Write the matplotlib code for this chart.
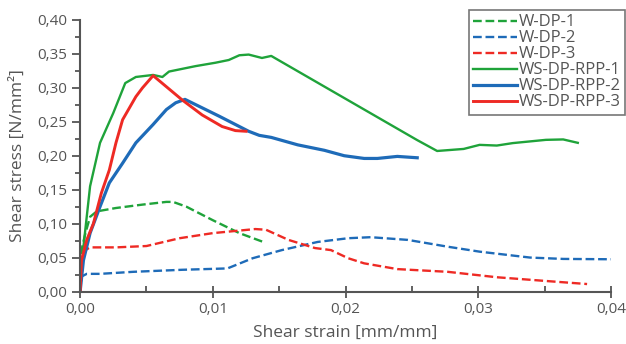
import numpy as np
import matplotlib.pyplot as plt

plt.rcParams['font.family'] = ['Open Sans', 'DejaVu Sans']

# W-DP-1 (green dashed)
w1_x = [0, 0.0001, 0.0004, 0.00075, 0.00125, 0.0027, 0.0047, 0.0065, 0.0070, 0.008, 0.010, 0.012, 0.0138]
w1_y = [0, 0.061, 0.086, 0.110, 0.118, 0.123, 0.128, 0.132, 0.132, 0.125, 0.105, 0.086, 0.073]

# W-DP-2 (blue dashed)
w2_x = [0, 0.0001, 0.0005, 0.0015, 0.004, 0.0077, 0.0111, 0.013, 0.0152, 0.0179, 0.0202, 0.0219,
        0.0247, 0.0277, 0.0301, 0.0339, 0.0364, 0.040]
w2_y = [0, 0.022, 0.026, 0.026, 0.029, 0.032, 0.034, 0.049, 0.061, 0.073, 0.0785, 0.080,
        0.076, 0.066, 0.0587, 0.050, 0.048, 0.0475]

# W-DP-3 (red dashed)
w3_x = [0, 0.00005, 0.0004, 0.00075, 0.0027, 0.005, 0.0075, 0.010, 0.0132, 0.014, 0.0157, 0.0177,
        0.0189, 0.0202, 0.0214, 0.0239, 0.0277, 0.0314, 0.0351, 0.0382]
w3_y = [0, 0.0415, 0.061, 0.065, 0.065, 0.067, 0.0785, 0.086, 0.092, 0.091, 0.076, 0.064,
        0.061, 0.049, 0.0415, 0.033, 0.029, 0.021, 0.0155, 0.011]

# WS-DP-RPP-1 (green solid)
ws1_x = [0, 0.00025, 0.00075, 0.0015, 0.0025, 0.0034, 0.0042, 0.0055, 0.0062, 0.0067, 0.0087,
         0.0102, 0.0112, 0.012, 0.0127, 0.0137, 0.0144, 0.0254, 0.0269, 0.0289, 0.0301, 0.0314,
         0.0326, 0.0351, 0.0364, 0.0375]
ws1_y = [0, 0.066, 0.155, 0.219, 0.263, 0.307, 0.316, 0.319, 0.316, 0.324, 0.332,
         0.337, 0.341, 0.348, 0.349, 0.344, 0.347, 0.223, 0.207, 0.210, 0.216, 0.215,
         0.2186, 0.2234, 0.224, 0.219]

# WS-DP-RPP-2 (blue solid)
ws2_x = [0, 0.00025, 0.00075, 0.0015, 0.0022, 0.0032, 0.0042, 0.0055, 0.0065, 0.0072, 0.0079,
         0.0105, 0.0127, 0.0135, 0.0144, 0.0164, 0.0184, 0.0199, 0.0214, 0.0224, 0.0239, 0.0254]
ws2_y = [0, 0.046, 0.086, 0.125, 0.160, 0.189, 0.219, 0.246, 0.268, 0.278, 0.283,
         0.258, 0.236, 0.230, 0.227, 0.216, 0.208, 0.200, 0.196, 0.196, 0.199, 0.197]

# WS-DP-RPP-3 (red solid)
ws3_x = [0, 0.0001, 0.0005, 0.001, 0.0016, 0.0022, 0.0027, 0.0032, 0.0037, 0.0042, 0.0047, 0.0055,
         0.0077, 0.0092, 0.0107, 0.0117, 0.0125]
ws3_y = [0, 0.046, 0.076, 0.100, 0.145, 0.179, 0.219, 0.253, 0.270, 0.287, 0.300, 0.318,
         0.282, 0.260, 0.243, 0.237, 0.236]

green = '#1fa33a'
blue = '#1e6bb8'
red = '#ee2a24'
gray = '#555555'

fig = plt.figure(figsize=(6.26, 3.44), dpi=100)
ax = fig.add_axes([0.128, 0.1526, 0.848, 0.7894])

ax.plot(w1_x, w1_y, '--', color=green, lw=1.7, label='W-DP-1')
ax.plot(w2_x, w2_y, '--', color=blue, lw=1.7, label='W-DP-2')
ax.plot(w3_x, w3_y, '--', color=red, lw=1.7, label='W-DP-3')
ax.plot(ws1_x, ws1_y, '-', color=green, lw=1.7, label='WS-DP-RPP-1')
ax.plot(ws2_x, ws2_y, '-', color=blue, lw=2.3, label='WS-DP-RPP-2')
ax.plot(ws3_x, ws3_y, '-', color=red, lw=2.1, label='WS-DP-RPP-3')

ax.set_xlim(0, 0.04)
ax.set_ylim(0, 0.40)
ax.set_xticks([0, 0.01, 0.02, 0.03, 0.04])
ax.set_xticks([0.005, 0.015, 0.025, 0.035], minor=True)
ax.set_yticks(np.arange(0, 0.41, 0.05))
ax.set_yticks(np.arange(0.025, 0.4, 0.05), minor=True)
ax.set_xticklabels(['0,00', '0,01', '0,02', '0,03', '0,04'])
ax.set_yticklabels([f'{v:.2f}'.replace('.', ',') for v in np.arange(0, 0.41, 0.05)])

for s in ['top', 'right']:
    ax.spines[s].set_visible(False)
for s in ['left', 'bottom']:
    ax.spines[s].set_color(gray)
    ax.spines[s].set_linewidth(1.5)

ax.tick_params(axis='x', which='major', direction='inout', length=9, width=1.3, color=gray,
               labelsize=11, labelcolor=gray, pad=3)
ax.tick_params(axis='x', which='minor', direction='in', length=4, width=1.3, color=gray)
ax.tick_params(axis='y', which='major', direction='out', length=6, width=1.3, color=gray,
               labelsize=11, labelcolor=gray)
ax.tick_params(axis='y', which='minor', direction='out', length=3.5, width=1.3, color=gray)

ax.set_xlabel('Shear strain [mm/mm]', fontsize=12.5, color=gray, labelpad=6)
ax.set_ylabel('Shear stress [N/mm²]', fontsize=12.5, color=gray, labelpad=8)

leg = ax.legend(loc='upper right', bbox_to_anchor=(0.999, 0.97), bbox_transform=fig.transFigure,
                borderaxespad=0, fancybox=False, framealpha=1, edgecolor='#777777',
                fontsize=12, handlelength=2.6, handletextpad=0.15, labelspacing=0.0,
                borderpad=0.25)
leg.get_frame().set_linewidth(1.2)
for t in leg.get_texts():
    t.set_color(gray)

fig.savefig('out.png', dpi=100)
